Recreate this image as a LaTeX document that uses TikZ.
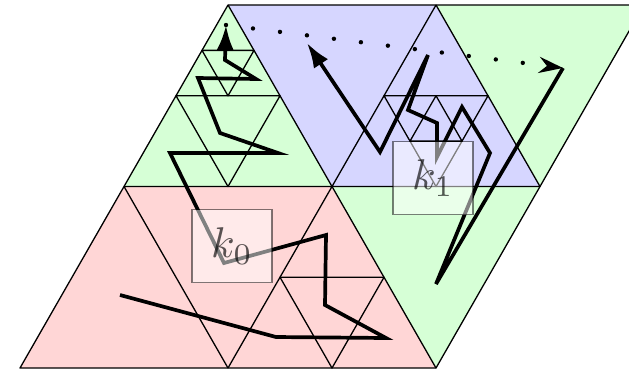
\documentclass[tikz,border=0pt]{standalone}
\usepackage{graphicx}
\usetikzlibrary{arrows.meta}

\definecolor{cellred}{RGB}{255,214,214}
\definecolor{cellgreen}{RGB}{214,255,214}
\definecolor{cellblue}{RGB}{214,214,255}

\begin{document}
\begin{tikzpicture}[x=1pt, y=-1pt,
    grid/.style={line width=1.3pt, line join=round},
    curve/.style={line width=3.7pt},
    hop/.style={line width=4.4pt, line cap=round, dash pattern=on 0pt off 27.2pt},
    cell/.style={draw=black, line width=1.3pt, fill=white, opacity=0.5, text opacity=0.65,
      minimum width=80pt, minimum height=73pt, inner sep=0pt}]
  \useasboundingbox (0,0) rectangle (629,376);
  \clip (0,0) rectangle (629,376);

  % lattice: u along the bottom edge, v along the slanted edge
  \begin{scope}[shift={(20,368)}, x={(52pt,0pt)}, y={(26pt,45.375pt)}]
    \fill[cellred] (0,0) -- (8,0) -- (4,4) -- (0,4) -- cycle;
    \fill[cellgreen] (0,4) -- (4,4) -- (0,8) -- cycle;
    \fill[cellblue] (0,8) -- (4,8) -- (8,4) -- (4,4) -- cycle;
    \fill[cellgreen] (4,8) -- (8,8) -- (8,4) -- cycle;
    \fill[cellgreen] (4,4) -- (8,4) -- (8,0) -- cycle;

    \draw[grid] (0,0) -- (8,0) -- (8,8) -- (0,8) -- cycle;
    \draw[grid] (8,0) -- (0,8);
    \draw[grid] (0,4) -- (8,4) (4,0) -- (4,8) (4,0) -- (0,4) (4,8) -- (8,4);
    \draw[grid] (6,0) -- (6,2) -- (4,2) -- cycle;
    \draw[grid] (2,4) -- (2,6) -- (0,6) -- cycle;
    \draw[grid] (1,6) -- (1,7) -- (0,7) -- cycle;
    \draw[grid] (6,4) -- (6,6) -- (4,6) -- cycle;
    \draw[grid] (6,5) -- (5,6) -- (5,5) -- cycle;
  \end{scope}

  \coordinate (k0start) at (120,295);
  \coordinate (k0end) at (226,25);
  \coordinate (k1start) at (563,68);
  \coordinate (k1end) at (307,43);

  \draw[curve, -{Latex[length=25pt,width=17pt]}] (k0start) -- (276,337) -- (386,338)
    -- (325,305) -- (326,235) -- (224,263) -- (170,153) -- (278,153) -- (220,133)
    -- (198,78) -- (256,79) -- (225,60) -- (k0end);
  \draw[curve, -{Latex[length=25pt,width=17pt]}] (k1start) -- (436,284) -- (490,153)
    -- (462,107) -- (437,157) -- (437,123) -- (408,110) -- (428,55) -- (380,152)
    -- (k1end);
  \draw[hop, -{Stealth[length=24pt,width=16pt]}] (k0end) -- (k1start);

  \node[cell] (k0) at (232,246) {\scalebox{4.3}{$k_0$}};
  \node[cell] (k1) at (433,178) {\scalebox{4.3}{$k_1$}};
\end{tikzpicture}
\end{document}
